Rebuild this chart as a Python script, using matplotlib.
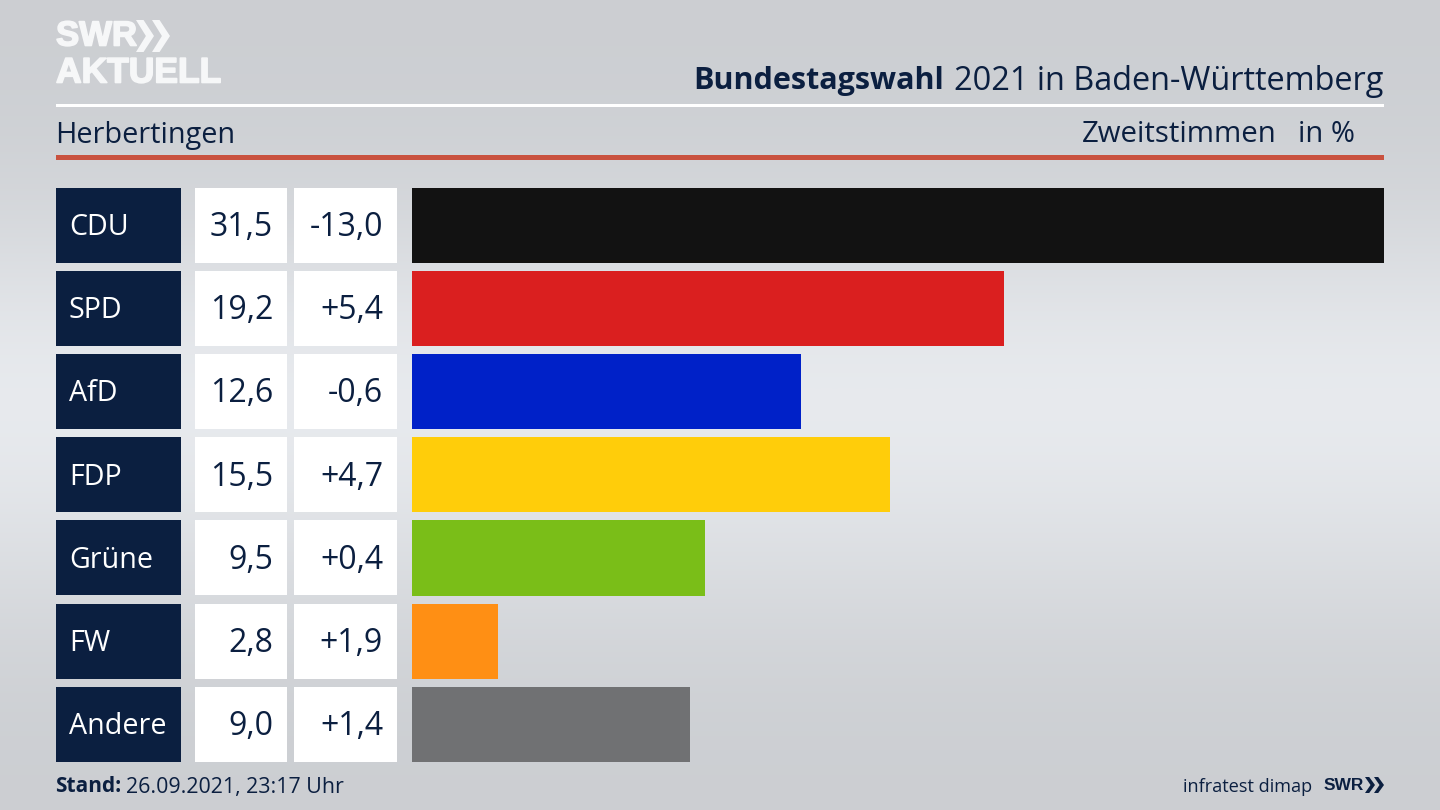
import numpy as np
import matplotlib.pyplot as plt
import matplotlib.patheffects as pe
from matplotlib.patches import Rectangle, Polygon

parties = ["CDU", "SPD", "AfD", "FDP", "Grüne", "FW", "Andere"]
shares = [31.5, 19.2, 12.6, 15.5, 9.5, 2.8, 9.0]
changes = ["-13,0", "+5,4", "-0,6", "+4,7", "+0,4", "+1,9", "+1,4"]
colors = ["#121212", "#da1f1f", "#0021c8", "#ffcd0a", "#7abe18", "#ff8f14", "#707173"]

navy = "#0b1f40"
logo_white = "#f6f7f8"
plt.rcParams['font.family'] = ['Open Sans', 'DejaVu Sans']


def box(x, y, w, h, color):
    bg.add_patch(Rectangle((x, y), w, h, facecolor=color, linewidth=0))


def chevron(x0, y0, w, h, color):
    tip = x0 + w
    bg.add_patch(Polygon([(x0, y0), (x0 + w * 0.42, y0), (tip, y0 + h / 2), (x0 + w * 0.42, y0 + h),
                          (x0, y0 + h), (x0 + w * 0.55, y0 + h / 2)], facecolor=color, linewidth=0))


fig = plt.figure(figsize=(14.4, 8.1), dpi=100)

# background, pixel coordinates
bg = fig.add_axes([0, 0, 1, 1])
bg.set_xlim(0, 1440)
bg.set_ylim(810, 0)
bg.axis("off")
shade = np.array([0.80, 0.81, 0.84, 0.89, 0.915, 0.89, 0.85, 0.815, 0.80])
bg.imshow(np.column_stack([shade, shade + 0.01, shade + 0.025]).reshape(-1, 1, 3).clip(0, 1),
          extent=[0, 1440, 810, 0], aspect="auto", interpolation="bicubic")

# logo
thick = [pe.withStroke(linewidth=1.2, foreground=logo_white)]
bg.text(56, 36, "SWR", fontsize=25, fontweight="bold", color=logo_white, va="center",
        family="Liberation Sans", path_effects=thick)
bg.text(56, 73, "AKTUELL", fontsize=25.5, fontweight="bold", color=logo_white, va="center",
        family="Liberation Sans", path_effects=thick)
chevron(136, 20, 18, 32, logo_white)
chevron(152, 20, 18, 32, logo_white)

# header
bg.text(944, 81, "Bundestagswahl", fontsize=22, fontweight="bold", color=navy, ha="right", va="center")
bg.text(1383, 81, "2021 in Baden-Württemberg", fontsize=23.4, color=navy, ha="right", va="center")
box(56, 104, 1328, 3, "white")
bg.text(55, 135, "Herbertingen", fontsize=20.8, color=navy, va="center")
bg.text(1277, 135, "Zweitstimmen", fontsize=21.2, color=navy, ha="right", va="center")
bg.text(1355, 135, "in %", fontsize=21, color=navy, ha="right", va="center")
box(56, 155, 1328, 5, "#c9523f")

# table cells
row_h = 83.2
for i in range(len(parties)):
    y = 187.5 + i * row_h
    box(56, y, 125, 75, navy)
    box(195, y, 92, 75, "white")
    box(294, y, 103, 75, "white")
    bg.text(69, y + 40, parties[i], fontsize=20.6, color="white", va="center")
    bg.text(273, y + 40, f"{shares[i]:.1f}".replace(".", ","), fontsize=23, color=navy, ha="right", va="center")
    bg.text(383, y + 40, changes[i], fontsize=23, color=navy, ha="right", va="center")

# bars
ax = fig.add_axes([412 / 1440, 1 - 762 / 810, 972 / 1440, (762 - 187.5) / 810])
ax.barh(np.arange(len(parties)), shares, height=75 / row_h, color=colors)
ax.set_xlim(0, max(shares))
ax.set_ylim(len(parties) - 1 + 75 / row_h / 2, -75 / row_h / 2)
ax.axis("off")

# footer
bg.text(55, 787, "Stand:", fontsize=15, fontweight="bold", color=navy, va="center")
bg.text(126, 787, "26.09.2021, 23:17 Uhr", fontsize=15.4, color=navy, va="center")
bg.text(1312, 787, "infratest dimap", fontsize=13.1, color=navy, ha="right", va="center")
bg.text(1324, 785, "SWR", fontsize=12.5, fontweight="bold", color=navy, va="center", family="Liberation Sans")
chevron(1365, 777, 10, 16, navy)
chevron(1374, 777, 10, 16, navy)

fig.savefig("out.png", dpi=100)
